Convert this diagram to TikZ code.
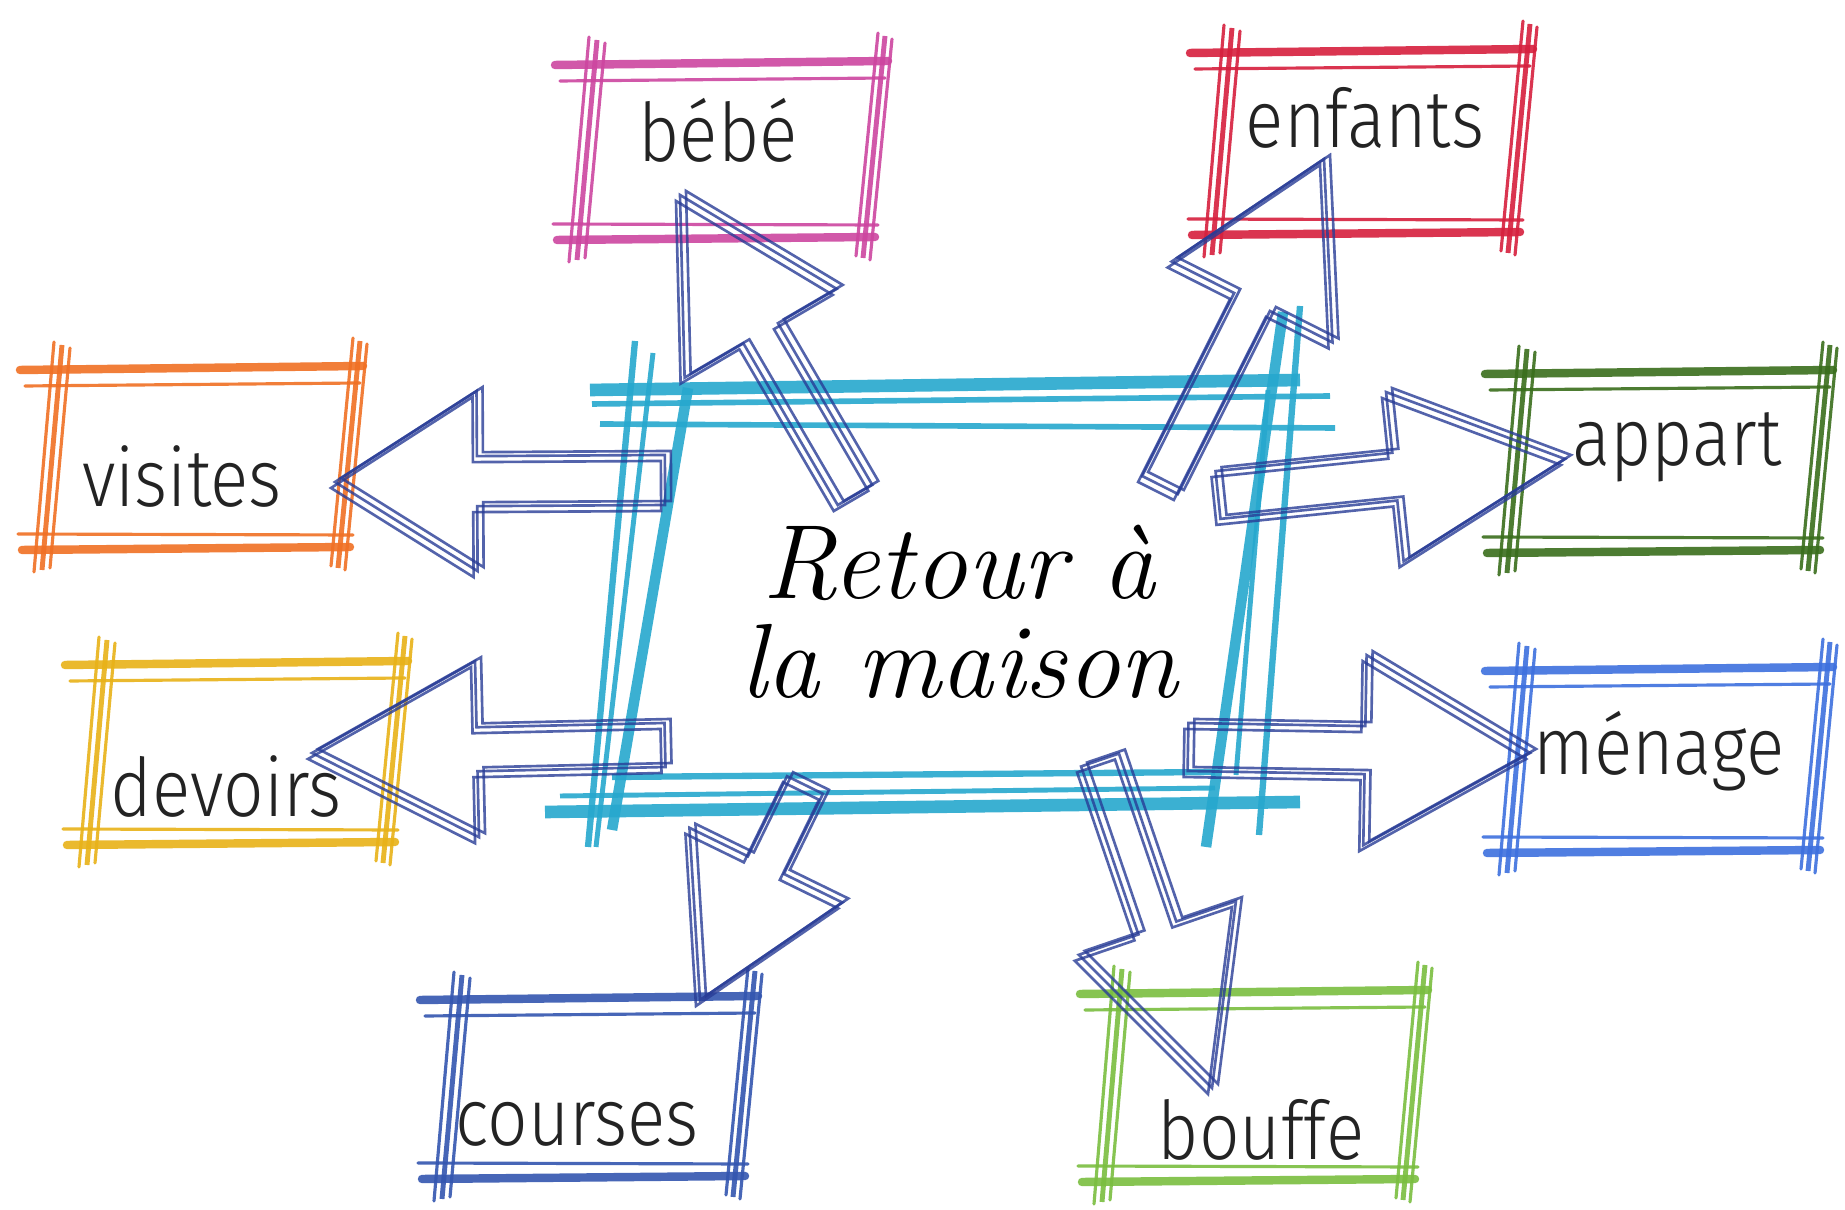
\documentclass[tikz,border=0pt]{standalone}
\usepackage{fontspec}
\usetikzlibrary{calc}
\IfFontExistsTF{Fira Sans Light}
  {\newfontfamily\handfont[FakeStretch=0.88]{Fira Sans Light}}
  {\newfontfamily\handfont[FakeStretch=0.85]{Open Sans}}
\definecolor{cyanc}{RGB}{38,168,206}
\definecolor{pinkc}{RGB}{205,70,160}
\definecolor{redc}{RGB}{214,32,62}
\definecolor{orangec}{RGB}{240,112,36}
\definecolor{dgreenc}{RGB}{58,110,28}
\definecolor{yellowc}{RGB}{232,178,24}
\definecolor{bluec}{RGB}{62,112,222}
\definecolor{cbluec}{RGB}{52,86,176}
\definecolor{lgreenc}{RGB}{122,190,64}
\definecolor{navyc}{RGB}{40,60,150}
\definecolor{labelgray}{RGB}{35,35,35}
\tikzset{
  lbl/.style={font=\handfont\fontsize{23}{25}\selectfont, text=labelgray, inner sep=0pt},
  centertext/.style={font=\itshape\fontsize{30}{28}\selectfont, align=center, inner sep=0pt},
  arrowline/.style={draw=navyc, line width=0.75pt, line join=miter, opacity=0.8},
  thickpen/.style={line width=2.4pt, opacity=0.9, line cap=round},
  thinpen/.style={line width=0.9pt, opacity=0.9, line cap=round},
}
% sketchy rectangle: colour, L, T, R, B (pixels, y downward)
\newcommand\sketchbox[5]{%
  \draw[#1, thickpen] (#2-20,#3) -- (#4+18,#3-4);
  \draw[#1, thinpen] (#2-15,#3+16) -- (#4+15,#3+13);
  \draw[#1, thinpen] (#2-22,#5-16) -- (#4+8,#5-15);
  \draw[#1, thickpen] (#2-18,#5) -- (#4+5,#5-3);
  \draw[#1, thinpen] (#2+14,#3-28) -- (#2-6,#5+22);
  \draw[#1, thinpen] (#2+30,#3-22) -- (#2+10,#5+18);
  \draw[#1, line width=1.4pt, opacity=0.9] (#2+22,#3-25) -- (#2+2,#5+20);
  \draw[#1, thinpen] (#4+8,#3-32) -- (#4-14,#5+16);
  \draw[#1, line width=1.4pt, opacity=0.9] (#4+15,#3-29) -- (#4-7,#5+18);
  \draw[#1, thinpen] (#4+22,#3-26) -- (#4,#5+20);
}
% block arrow: start, tip, shaft half width, head half width, head length
\newcommand\blockarrow[5]{%
  \coordinate (qq) at ($(#2)!#5!(#1)$);
  \foreach \dx/\dy in {0/0, 6/-4, -4/6}{
  \draw[arrowline] ($(#1)!#3!90:(#2)+(\dx,\dy)$) -- ($(qq)!#3!-90:(#1)+(\dx,\dy)$)
     -- ($(qq)!#4!-90:(#1)+(\dx,\dy)$) -- ($(#2)+(\dx,\dy)$) -- ($(qq)!#4!90:(#1)+(\dx,\dy)$)
     -- ($(qq)!#3!90:(#1)+(\dx,\dy)$) -- ($(#1)!#3!-90:(#2)+(\dx,\dy)$) -- cycle;
  }
}
\begin{document}
\begin{tikzpicture}[x=0.01cm, y=-0.01cm]
\useasboundingbox[fill=white] (0,0) rectangle (1845,1210);

% ---- central box ----
\draw[cyanc, line width=3.6pt, opacity=0.9] (590,390) -- (1300,380);
\draw[cyanc, line width=1.6pt, opacity=0.9] (592,404) -- (1330,396);
\draw[cyanc, line width=1.6pt, opacity=0.9] (600,424) -- (1335,428);
\draw[cyanc, line width=1.8pt, opacity=0.9] (612,777) -- (1215,772);
\draw[cyanc, line width=1.4pt, opacity=0.9] (560,796) -- (1215,788);
\draw[cyanc, line width=3.6pt, opacity=0.9] (545,812) -- (1300,802);
\draw[cyanc, line width=1.8pt, opacity=0.9] (635,341) -- (588,847);
\draw[cyanc, line width=1.4pt, opacity=0.9] (653,353) -- (596,847);
\draw[cyanc, line width=3pt, opacity=0.9] (688,388) -- (612,830);
\draw[cyanc, line width=1.8pt, opacity=0.9] (1300,306) -- (1259,835);
\draw[cyanc, line width=3pt, opacity=0.9] (1283,312) -- (1206,847);
\draw[cyanc, line width=1.4pt, opacity=0.9] (1268,390) -- (1236,775);
\node[centertext] (center) at (959,612) {Retour à\\la maison};

% ---- outer boxes ----
\sketchbox{pinkc}{575}{65}{870}{240}
\node[lbl] (bebe) at (718,130) {bébé};
\sketchbox{redc}{1210}{53}{1515}{235}
\node[lbl] (enfants) at (1365,118) {enfants};
\sketchbox{orangec}{40}{370}{345}{550}
\node[lbl] (visites) at (182,477) {visites};
\sketchbox{dgreenc}{1505}{374}{1815}{553}
\node[lbl] (appart) at (1677,447) {appart};
\sketchbox{yellowc}{85}{665}{390}{845}
\node[lbl] (devoirs) at (226,786) {devoirs};
\sketchbox{bluec}{1505}{671}{1815}{853}
\node[lbl] (menage) at (1659,751) {ménage};
\sketchbox{cbluec}{440}{1000}{740}{1179}
\node[lbl] (courses) at (577,1124) {courses};
\sketchbox{lgreenc}{1100}{994}{1410}{1182}
\node[lbl] (bouffe) at (1261,1130) {bouffe};

% ---- arrow end points ----
\coordinate (sV) at (665,480);  \coordinate (tV) at (335,482);
\coordinate (sD) at (665,745);  \coordinate (tD) at (312,753);
\coordinate (sA) at (1218,495); \coordinate (tA) at (1565,459);
\coordinate (sM) at (1188,747); \coordinate (tM) at (1530,753);
\coordinate (sB) at (855,495);  \coordinate (tB) at (680,195);
\coordinate (sE) at (1160,485); \coordinate (tE) at (1324,159);
\coordinate (sC) at (805,785);  \coordinate (tC) at (700,1000);
\coordinate (sF) at (1100,760); \coordinate (tF) at (1212,1088);

\blockarrow{sV}{tV}{0.25cm}{0.9cm}{1.42cm}
\blockarrow{sD}{tD}{0.22cm}{0.88cm}{1.65cm}
\blockarrow{sA}{tA}{0.24cm}{0.85cm}{1.71cm}
\blockarrow{sM}{tM}{0.24cm}{0.95cm}{1.65cm}
\blockarrow{sB}{tB}{0.2cm}{0.88cm}{1.6cm}
\blockarrow{sE}{tE}{0.2cm}{0.9cm}{1.6cm}
\blockarrow{sC}{tC}{0.2cm}{0.85cm}{1.5cm}
\blockarrow{sF}{tF}{0.2cm}{0.83cm}{1.69cm}
\end{tikzpicture}
\end{document}
